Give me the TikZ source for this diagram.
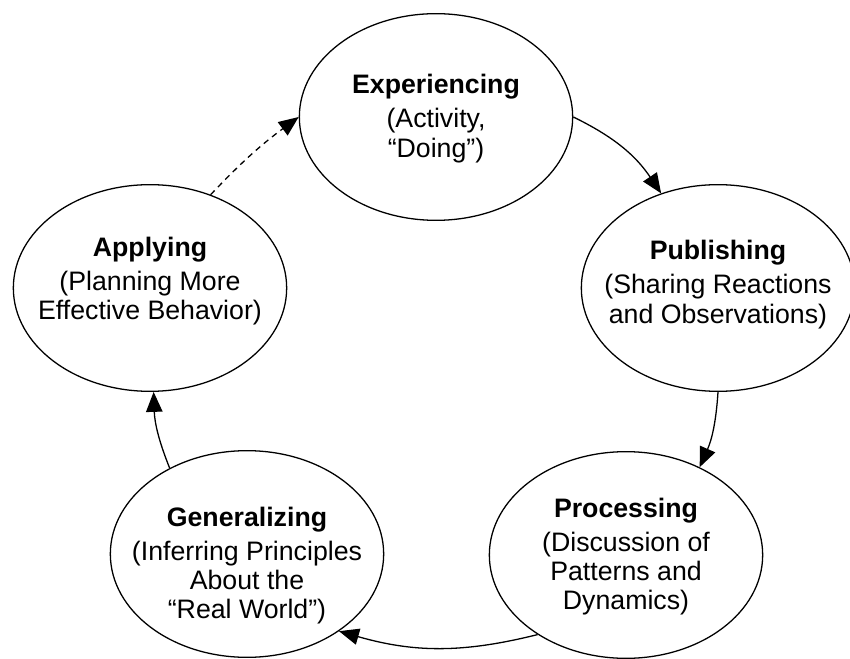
\documentclass[tikz,border=0pt]{standalone}
\usepackage{fontspec}
\setmainfont{Liberation Sans}
\usetikzlibrary{shapes.geometric,arrows.meta}

\begin{document}
\begin{tikzpicture}[
        stage/.style={ellipse, draw, line width=1.1pt, minimum width=8.2cm, minimum height=6.2cm, inner sep=0pt},
        caption/.style={align=center, font=\fontsize{22.8}{25}\selectfont},
        arrow/.style={->, line width=1.1pt, >={Triangle[length=17pt, width=14pt]}}]

        \useasboundingbox (0,0) rectangle (25.5,19.74);

        % the five stages of the cycle
        \node[stage] (EXP) at (13.08,16.23) {};
        \node[stage] (PUB) at (21.54,11.10) {};
        \node[stage] (PROC) at (18.78,3.09) {};
        \node[stage] (GEN) at (7.41,3.12) {};
        \node[stage] (APP) at (4.50,11.10) {};

        \node[caption] (EXPtxt) at ([yshift=-0.05cm]EXP) {\textbf{Experiencing}\\[4pt](Activity,\\“Doing”)};
        \node[caption] (PUBtxt) at ([yshift=0.1cm]PUB) {\textbf{Publishing}\\[4pt](Sharing Reactions\\and Observations)};
        \node[caption] (PROCtxt) at ([yshift=-0.05cm]PROC) {\textbf{Processing}\\[4pt](Discussion of\\Patterns and\\Dynamics)};
        \node[caption] (GENtxt) at ([yshift=-0.35cm]GEN) {\textbf{Generalizing}\\[4pt](Inferring Principles\\About the\\“Real World”)};
        \node[caption] (APPtxt) at ([yshift=0.2cm]APP) {\textbf{Applying}\\[4pt](Planning More\\Effective Behavior)};

        \draw[arrow] (EXP.0) to[bend left=15] (PUB.121);
        \draw[arrow] (PUB.270) to[bend left=10] (PROC.50);
        \draw[arrow] (PROC.222) to[bend left=15] (GEN.320);
        \draw[arrow] (GEN.132) to[bend left=10] (APP.272);
        \draw[arrow, dash pattern=on 5pt off 4pt] (APP.57) to[bend left=5] (EXP.180);

    \end{tikzpicture}
\end{document}
